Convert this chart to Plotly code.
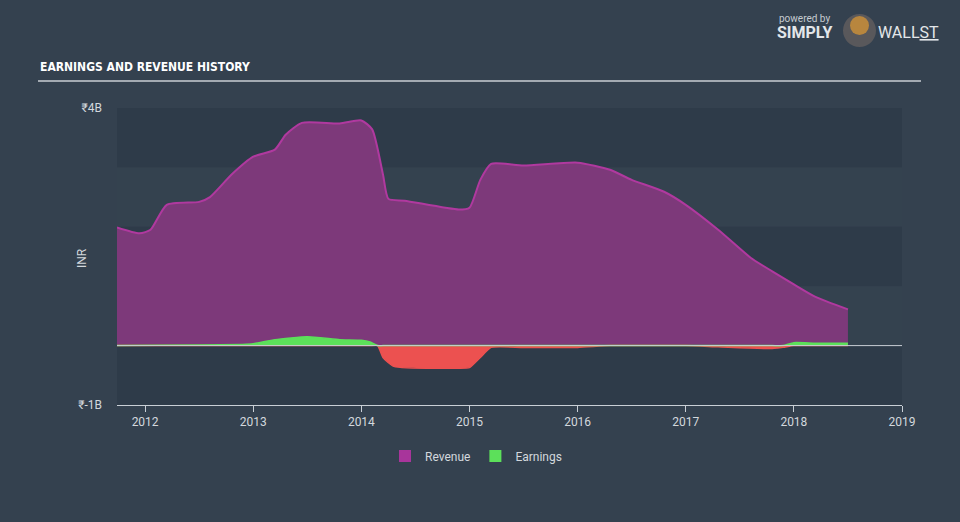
import plotly.graph_objects as go

# ---- data (billions INR) ----
rev_x = [2011.74, 2011.95, 2012.05, 2012.2, 2012.5, 2012.6, 2012.8, 2013.0, 2013.2, 2013.3,
         2013.45, 2013.8, 2014.0, 2014.1, 2014.2, 2014.25, 2014.4, 2014.9, 2015.0, 2015.1,
         2015.2, 2015.5, 2016.0, 2016.3, 2016.5, 2016.8, 2017.0, 2017.3, 2017.6, 2017.8,
         2018.0, 2018.2, 2018.5]
revenue = [1.99, 1.89, 1.95, 2.37, 2.42, 2.50, 2.88, 3.18, 3.30, 3.55,
           3.75, 3.74, 3.79, 3.64, 2.88, 2.47, 2.44, 2.29, 2.32, 2.79,
           3.06, 3.03, 3.08, 2.96, 2.79, 2.59, 2.37, 1.95, 1.48, 1.25,
           1.03, 0.82, 0.61]

earn_x = [2011.74, 2012.5, 2012.9, 2013.0, 2013.2, 2013.5, 2013.8, 2014.0, 2014.08, 2014.15,
          2014.2, 2014.3, 2014.9, 2015.0, 2015.1, 2015.2, 2015.5, 2016.0, 2016.3, 2017.0,
          2017.3, 2017.8, 2017.9, 2018.0, 2018.2, 2018.5]
earnings = [0.0, 0.01, 0.02, 0.03, 0.10, 0.15, 0.10, 0.09, 0.06, 0.0,
            -0.20, -0.35, -0.38, -0.37, -0.20, -0.03, -0.03, -0.03, 0.0, 0.0,
            -0.02, -0.05, -0.03, 0.05, 0.04, 0.04]

x_ticks = [2012, 2013, 2014, 2015, 2016, 2017, 2018, 2019]
y_tickvals = [-1, 4]
y_ticktext = ["₹-1B", "₹4B"]

# ---- styling ----
BG = "#34414f"
BAND_DARK = "#2e3b49"
BAND_LIGHT = "#34424f"
REV_FILL = "rgba(128,57,124,0.97)"
REV_LINE = "#b0399f"
REV_SWATCH = "#a8359b"
GREEN = "#5ce05a"
RED = "#ec5150"
TXT = "#d3d8dd"

# pixel helpers for paper coordinates (plot area: x 117..902, y 108..405)
def px(x):
    return (x - 117) / 785

def py(y):
    return (405 - y) / 297

fig = go.Figure()

fig.add_trace(go.Scatter(
    x=rev_x, y=revenue, name="Revenue", mode="lines", showlegend=False,
    line=dict(color=REV_LINE, width=2, shape="spline", smoothing=0.6),
    fill="tozeroy", fillcolor=REV_FILL,
))

earn_pos = [max(0.0, v) for v in earnings]
earn_neg = [min(0.0, v) for v in earnings]
fig.add_trace(go.Scatter(
    x=earn_x, y=earn_neg, name="Earnings (loss)", mode="lines", showlegend=False,
    line=dict(color=RED, width=1.5, shape="spline", smoothing=0.5),
    fill="tozeroy", fillcolor=RED,
))
fig.add_trace(go.Scatter(
    x=earn_x, y=earn_pos, name="Earnings", mode="lines", showlegend=False,
    line=dict(color=GREEN, width=1.5, shape="spline", smoothing=0.5),
    fill="tozeroy", fillcolor=GREEN,
))

# legend entries with square swatches
fig.add_trace(go.Scatter(x=[None], y=[None], name="Revenue", mode="markers",
                         marker=dict(symbol="square", size=15, color=REV_SWATCH)))
fig.add_trace(go.Scatter(x=[None], y=[None], name="Earnings", mode="markers",
                         marker=dict(symbol="square", size=15, color=GREEN)))

# background bands
shapes = []
for i, (y0, y1) in enumerate([(3, 4), (2, 3), (1, 2), (0, 1), (-1, 0)]):
    shapes.append(dict(type="rect", xref="paper", yref="y", x0=0, x1=1, y0=y0, y1=y1,
                       fillcolor=BAND_DARK if i % 2 == 0 else BAND_LIGHT,
                       line=dict(width=0), layer="below"))
# zero line
shapes.append(dict(type="line", xref="paper", yref="y", x0=0, x1=1, y0=0, y1=0,
                   line=dict(color="#c9cfd6", width=1), layer="above"))
# title underline
shapes.append(dict(type="line", xref="paper", yref="paper",
                   x0=px(38), x1=px(921), y0=py(81), y1=py(81),
                   line=dict(color="#a3aab2", width=2)))
# logo circles
shapes.append(dict(type="circle", xref="paper", yref="paper",
                   x0=px(843), x1=px(876), y0=py(47), y1=py(14),
                   fillcolor="#59585b", line=dict(width=0)))
shapes.append(dict(type="circle", xref="paper", yref="paper",
                   x0=px(850), x1=px(869), y0=py(35), y1=py(16),
                   fillcolor="#b8863e", line=dict(width=0)))

annotations = [
    dict(text="<b>EARNINGS AND REVENUE HISTORY</b>", xref="paper", yref="paper",
         x=px(38), y=py(67), xanchor="left", yanchor="middle", showarrow=False,
         font=dict(family="DejaVu Sans Condensed, Liberation Sans Narrow, sans-serif",
                   size=12, color="#ffffff")),
    dict(text="INR", xref="paper", yref="paper", x=px(82), y=py(258),
         xanchor="center", yanchor="middle", showarrow=False, textangle=-90,
         font=dict(size=12, color=TXT)),
    dict(text="powered by", xref="paper", yref="paper",
         x=px(777), y=py(18), xanchor="left", yanchor="middle",
         showarrow=False, font=dict(family="Roboto, sans-serif", size=10, color="#c5cbd1")),
    dict(text="<b>SIMPLY</b>", xref="paper", yref="paper",
         x=px(775), y=py(32), xanchor="left", yanchor="middle",
         showarrow=False, font=dict(family="Roboto, sans-serif", size=16, color="#e3e6e9")),
    dict(text="WALL<u>ST</u>", xref="paper", yref="paper",
         x=px(876), y=py(32), xanchor="left", yanchor="middle",
         showarrow=False, font=dict(family="Roboto, sans-serif", size=16, color="#e3e6e9")),
]

fig.update_layout(
    width=960, height=522,
    margin=dict(l=117, r=58, t=108, b=117),
    paper_bgcolor=BG, plot_bgcolor=BG,
    font=dict(family="Roboto, Open Sans, sans-serif", color=TXT, size=12),
    shapes=shapes, annotations=annotations,
    showlegend=True,
    legend=dict(orientation="h", x=px(476), xanchor="center", y=py(456), yanchor="middle",
                font=dict(size=12, color=TXT), traceorder="normal",
                itemsizing="constant"),
    xaxis=dict(range=[2011.74, 2019.0], tickvals=x_ticks, ticks="outside", ticklen=6,
               tickcolor="#c9cfd6", showline=True, linecolor="#c9cfd6", linewidth=1,
               showgrid=False, zeroline=False, tickfont=dict(size=12, color=TXT)),
    yaxis=dict(range=[-1, 4], tickvals=y_tickvals, ticktext=y_ticktext, showgrid=False,
               zeroline=False, showline=False, ticks="", ticklabelstandoff=14,
               tickfont=dict(size=12, color=TXT)),
)

fig.write_html("out.html")
